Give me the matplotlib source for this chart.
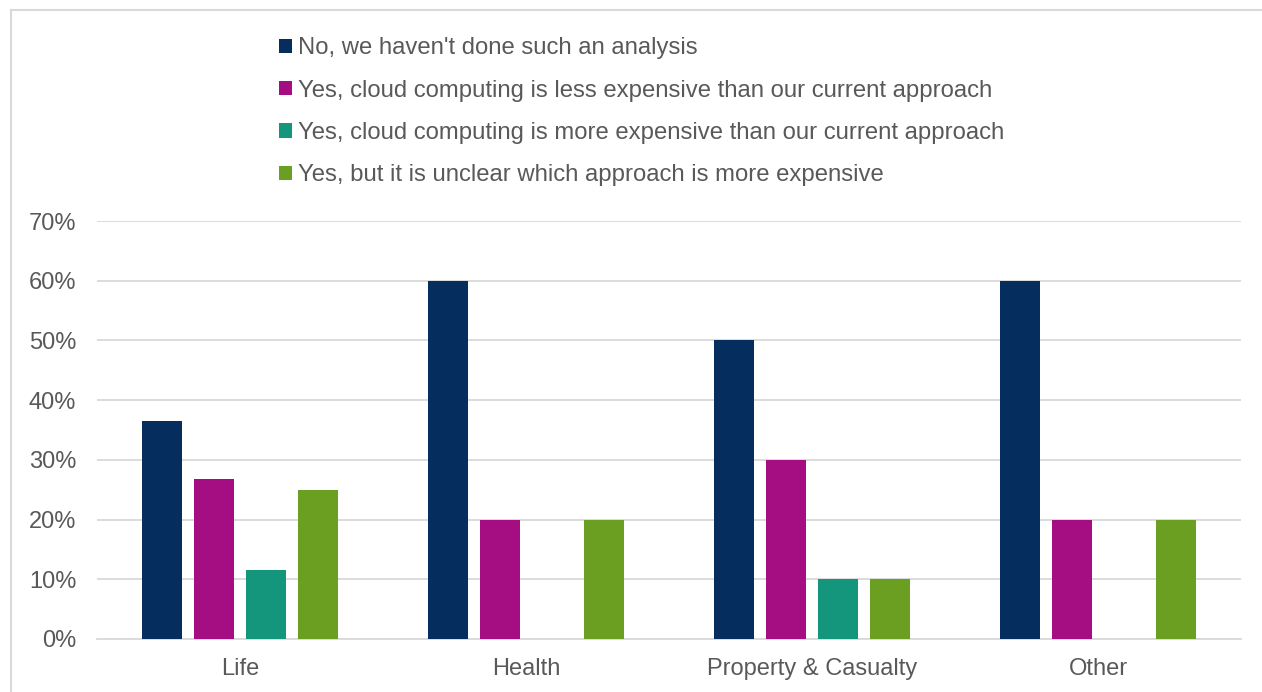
import numpy as np
import matplotlib.pyplot as plt
from matplotlib.patches import Patch
from matplotlib.ticker import PercentFormatter

categories = ['Life', 'Health', 'Property & Casualty', 'Other']
series = [
    "No, we haven't done such an analysis",
    'Yes, cloud computing is less expensive than our current approach',
    'Yes, cloud computing is more expensive than our current approach',
    'Yes, but it is unclear which approach is more expensive',
]
no_analysis = [0.365, 0.60, 0.50, 0.60]
less_expensive = [0.268, 0.20, 0.30, 0.20]
more_expensive = [0.115, 0.0, 0.10, 0.0]
unclear = [0.25, 0.20, 0.10, 0.20]
colors = ['#052e5e', '#a50e82', '#14967c', '#6a9f22']

plt.rcParams['font.family'] = ['Liberation Sans', 'DejaVu Sans']
text_color = '#595959'

fig = plt.figure(figsize=(12.62, 6.92), dpi=100)
ax = fig.add_axes([0.0769, 0.0766, 0.9065, 0.604])

x = np.arange(len(categories))
pitch = 0.182
width = 0.14
for i, (vals, c) in enumerate(zip([no_analysis, less_expensive, more_expensive, unclear], colors)):
    ax.bar(x + (i - 1.5) * pitch, vals, width, color=c, zorder=3)

ax.set_xlim(-0.5, 3.5)
ax.set_ylim(0, 0.7)
ax.set_yticks(np.arange(0, 0.71, 0.1))
ax.yaxis.set_major_formatter(PercentFormatter(1.0, decimals=0))
ax.set_xticks(x)
ax.set_xticklabels(categories)
ax.tick_params(length=0, labelsize=17, colors=text_color)
ax.tick_params(axis='y', pad=15)
ax.tick_params(axis='x', pad=14)
ax.grid(axis='y', color='#d9d9d9', linewidth=1.3, zorder=0)
for s in ['top', 'right', 'left']:
    ax.spines[s].set_visible(False)
ax.spines['bottom'].set_color('#d9d9d9')
ax.spines['bottom'].set_linewidth(1.3)

handles = [Patch(facecolor=c) for c in colors]
leg = fig.legend(handles, series, loc='upper left', bbox_to_anchor=(0.221, 0.946),
                 frameon=False, fontsize=17.2, handlelength=0.53, handleheight=0.53,
                 handletextpad=0.25, labelspacing=0.85, borderaxespad=0, borderpad=0)
for t in leg.get_texts():
    t.set_color(text_color)

# outer chart border (left and top edges visible)
fig.add_artist(plt.Line2D([0.0087, 0.0087], [0, 0.986], color='#d9d9d9', lw=1.5, transform=fig.transFigure))
fig.add_artist(plt.Line2D([0.0087, 1], [0.986, 0.986], color='#d9d9d9', lw=1.5, transform=fig.transFigure))

fig.savefig('out.png', dpi=100)
